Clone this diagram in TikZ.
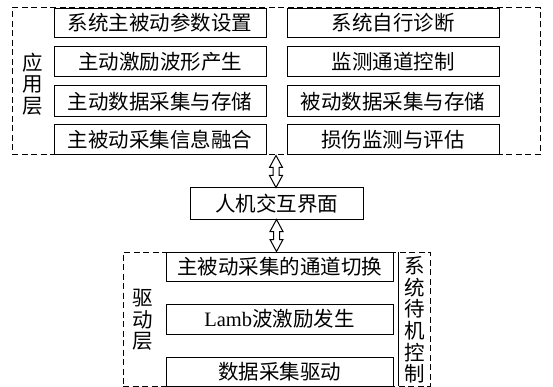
\documentclass[tikz,border=0pt]{standalone}
\usepackage{fontspec}
\setmainfont{Liberation Serif}
\newfontfamily\cjk{Noto Sans CJK SC}
\usetikzlibrary{calc}
\tikzset{
  box/.style={draw, line width=1pt, inner sep=0pt, font=\cjk\fontsize{20.5}{21}\selectfont},
  dashbox/.style={draw, line width=1pt, dash pattern=on 6pt off 3.5pt, inner sep=0pt},
  vlabel/.style={inner sep=0pt, align=center, font=\cjk\fontsize{20.5}{21.5}\selectfont},
  arr/.style={draw, line width=1pt, fill=white, line join=miter}
}
\newcommand\dblarr[2]{\path[arr] let \p1=#1, \p2=#2 in
  (\x1,\y1) -- (\x1-6.5pt,\y1-12pt) -- (\x1-3pt,\y1-12pt) -- (\x1-3pt,\y2+12pt)
  -- (\x1-6.5pt,\y2+12pt) -- (\x1,\y2) -- (\x1+6.5pt,\y2+12pt) -- (\x1+3pt,\y2+12pt)
  -- (\x1+3pt,\y1-12pt) -- (\x1+6.5pt,\y1-12pt) -- cycle;}
\begin{document}
\begin{tikzpicture}[x=1pt,y=-1pt]
\useasboundingbox (0,0) rectangle (553,387);
% application layer
\node[dashbox, minimum width=528pt, minimum height=147pt] (app) at (276,81.5) {};
\node[vlabel] (applbl) at (33,84) {应\\用\\层};
\node[box, minimum width=212pt, minimum height=29pt] (l1) at (160,23) {系统主被动参数设置};
\node[box, minimum width=212pt, minimum height=30pt] (l2) at (160,62) {主动激励波形产生};
\node[box, minimum width=212pt, minimum height=31pt] (l3) at (160,101.5) {主动数据采集与存储};
\node[box, minimum width=212pt, minimum height=30pt] (l4) at (160,140) {主被动采集信息融合};
\node[box, minimum width=212pt, minimum height=29pt] (r1) at (393,23) {系统自行诊断};
\node[box, minimum width=212pt, minimum height=30pt] (r2) at (393,62) {监测通道控制};
\node[box, minimum width=212pt, minimum height=31pt] (r3) at (393,101.5) {被动数据采集与存储};
\node[box, minimum width=212pt, minimum height=30pt] (r4) at (393,140) {损伤监测与评估};
% HMI
\node[box, minimum width=173pt, minimum height=31pt] (hmi) at (276.5,203.5) {人机交互界面};
% driver layer
\node[dashbox, minimum width=307pt, minimum height=134pt] (drv) at (276.5,319) {};
\node[vlabel] (drvlbl) at (143,320) {驱\\动\\层};
\node[box, minimum width=227pt, minimum height=29pt] (d1) at (279.5,266.5) {主被动采集的通道切换};
\node[box, minimum width=227pt, minimum height=30pt] (d2) at (279.5,319) {{\rmfamily Lamb}波激励发生};
\node[box, minimum width=227pt, minimum height=29pt] (d3) at (279.5,371.5) {数据采集驱动};
\node[inner sep=0pt, minimum width=31pt, minimum height=134pt] (stby) at (414.5,319) {};
\draw[line width=1pt] (stby.north west) -- (stby.south west);
\node[vlabel, font=\cjk\fontsize{20.5}{21.7}\selectfont] (stbylbl) at (414.5,320) {系\\统\\待\\机\\控\\制};
% arrows
\dblarr{(app.south)}{(hmi.north)}
\dblarr{(hmi.south)}{(drv.north)}
\end{tikzpicture}
\end{document}
